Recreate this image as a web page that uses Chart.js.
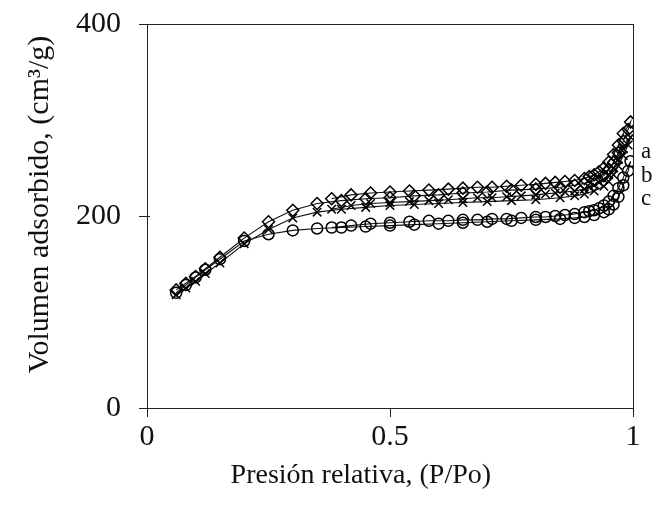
<!DOCTYPE html>
<html>
<head>
<meta charset="utf-8">
<script src="https://cdn.jsdelivr.net/npm/chart.js@4"></script>
<style>
  html, body { margin: 0; padding: 0; background: #fff; }
  #wrap { width: 659px; height: 514px; }
</style>
</head>
<body>
<div id="wrap"><canvas id="c" width="659" height="514"></canvas></div>
<script>
// ---- data ----
const seriesNames = ['a', 'b', 'c'];
const xTicks = [0, 0.5, 1];
const yTicks = [0, 200, 400];
const xTitle = 'Presión relativa, (P/Po)';
const yTitle = 'Volumen adsorbido, (cm\u00B3/g)';

// adsorption branch relative pressures
const pAds = [0.06, 0.08, 0.10, 0.12, 0.15, 0.20, 0.25, 0.30, 0.35, 0.40, 0.45, 0.50, 0.55, 0.60, 0.65, 0.70, 0.75, 0.80, 0.85, 0.88, 0.90, 0.92, 0.94, 0.95, 0.96, 0.97, 0.98, 0.99, 0.995];
// desorption branch relative pressures
const pDes = [0.98, 0.97, 0.96, 0.95, 0.94, 0.93, 0.92, 0.91, 0.90, 0.88, 0.86, 0.84, 0.82, 0.80, 0.77, 0.74, 0.71, 0.68, 0.65, 0.62, 0.58, 0.54, 0.50, 0.46, 0.42, 0.38];

const aAds = [123, 130, 137, 145, 157, 177, 194, 206, 213, 216, 218, 219, 221, 222, 224, 225, 227, 228, 230, 232, 234, 237, 242, 248, 256, 266, 278, 290, 298];
const aDes = [286, 274, 264, 256, 250, 246, 243, 241, 239, 237, 236, 235, 234, 233, 232, 231, 230, 230, 229, 228, 227, 226, 225, 224, 222, 218];

const bAds = [118, 125, 132, 140, 151, 171, 186, 198, 204, 207, 209, 211, 212, 213, 214, 215, 216, 217, 219, 221, 223, 226, 231, 236, 243, 252, 263, 274, 282];
const bDes = [270, 259, 250, 243, 238, 235, 232, 230, 228, 226, 225, 224, 223, 222, 221, 220, 219, 219, 218, 217, 216, 215, 214, 213, 211, 207];

const cAds = [120, 128, 136, 144, 155, 174, 181, 185, 187, 188, 189, 190, 191, 192, 193, 194, 195, 196, 197, 198, 199, 201, 204, 207, 212, 220, 232, 247, 257];
const cDes = [240, 229, 221, 215, 211, 208, 206, 205, 204, 202, 201, 200, 199, 199, 198, 197, 197, 196, 196, 195, 195, 194, 193, 192, 190, 188];

// where the series letters sit (value on y axis) at the right edge
const labelValues = [267, 242, 218];

// ---- build ----
function pts(xs, ys) { return ys.map((y, i) => ({ x: xs[i], y })); }
const styles = ['rectRot', 'crossRot', 'circle'];
const radii = [6, 6, 5.5];
const ads = [aAds, bAds, cAds];
const des = [aDes, bDes, cDes];

const datasets = seriesNames.map((n, i) => ({
  label: n,
  data: pts(pAds, ads[i]).concat(pts(pDes, des[i])),
  showLine: true,
  borderColor: '#111',
  borderWidth: 1.1,
  pointStyle: styles[i],
  pointRadius: radii[i],
  pointBorderColor: '#000',
  pointBorderWidth: 1.5,
  pointBackgroundColor: 'rgba(255,255,255,0)',
  tension: 0
}));

const serif = "'Liberation Serif', 'DejaVu Serif', serif";

const framePlugin = {
  id: 'frame',
  afterDraw(chart) {
    const { ctx, chartArea: a, scales } = chart;
    ctx.save();
    ctx.strokeStyle = '#222';
    ctx.lineWidth = 1;
    ctx.strokeRect(a.left + 0.5, a.top + 0.5, a.right - a.left, a.bottom - a.top);
    // y tick marks crossing the axis
    ctx.beginPath();
    yTicks.forEach(v => {
      const py = Math.round(scales.y.getPixelForValue(v)) + 0.5;
      ctx.moveTo(a.left - 8, py);
      ctx.lineTo(a.left + 3, py);
    });
    ctx.stroke();
    ctx.fillStyle = '#111';
    // series letters
    ctx.font = "23px " + serif;
    ctx.textBaseline = 'middle';
    ctx.textAlign = 'left';
    seriesNames.forEach((n, i) => {
      ctx.fillText(n, a.right + 8, scales.y.getPixelForValue(labelValues[i]));
    });
    // axis titles
    ctx.textAlign = 'center';
    ctx.font = "28px " + serif;
    ctx.fillText(xTitle, a.left + (a.right - a.left) * 0.44, a.bottom + 68);
    ctx.save();
    ctx.translate(40, a.top + (a.bottom - a.top) * 0.47);
    ctx.rotate(-Math.PI / 2);
    ctx.font = "30px " + serif;
    ctx.fillText(yTitle, 0, 0);
    ctx.restore();
    ctx.restore();
  }
};

new Chart(document.getElementById('c'), {
  type: 'scatter',
  data: { datasets },
  plugins: [framePlugin],
  options: {
    responsive: false,
    animation: false,
    events: [],
    layout: { padding: { top: 24, right: 26, left: 0, bottom: 0 } },
    plugins: { legend: { display: false }, tooltip: { enabled: false } },
    scales: {
      x: {
        type: 'linear', min: 0, max: 1,
        afterBuildTicks: s => { s.ticks = xTicks.map(v => ({ value: v })); },
        afterFit: s => { s.height = 106; },
        grid: { display: true, drawOnChartArea: false, tickLength: 9, color: '#222' },
        border: { color: '#222', width: 1 },
        ticks: { color: '#111', font: { family: serif, size: 30 }, padding: 2, maxRotation: 0,
                 callback: v => String(v) },
        title: { display: false }
      },
      y: {
        type: 'linear', min: 0, max: 400,
        afterBuildTicks: s => { s.ticks = yTicks.map(v => ({ value: v })); },
        afterFit: s => { s.width = 147; },
        grid: { display: true, drawOnChartArea: false, tickLength: 20, color: '#222', tickColor: 'rgba(0,0,0,0)' },
        border: { color: '#222', width: 1 },
        ticks: { color: '#111', font: { family: serif, size: 30, lineHeight: 1 }, padding: 6,
                 callback: v => String(v) },
        title: { display: false }
      }
    }
  }
});
</script>
</body>
</html>
